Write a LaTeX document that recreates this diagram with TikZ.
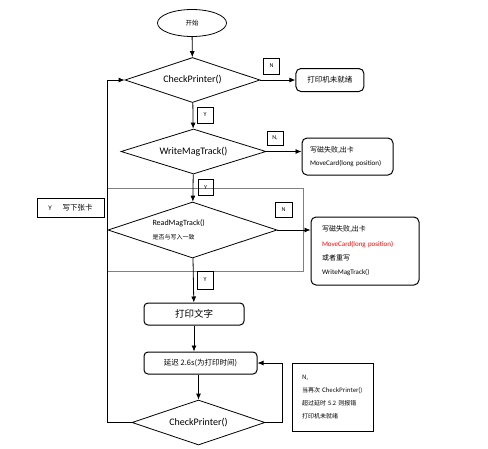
\documentclass[tikz,border=0pt]{standalone}
\usepackage{fontspec}
\setmainfont{Carlito}
\newfontfamily\cjk{Noto Sans CJK SC}
\usetikzlibrary{positioning, arrows.meta, shapes.geometric}
\tikzset{linea/.style={line width=0.8pt, -{Latex[length=6pt,width=5pt]}}}
\newcommand{\tam}[2]{\fontsize{#1}{#2}\selectfont}

\begin{document}
\begin{tikzpicture}[
            x = 1pt, y = -1pt,
            rombo/.style={draw, diamond, aspect=3, inner sep=0pt, line width=0.8pt},
            caja/.style={draw, rounded corners=5pt, line width=1pt},
            marca/.style={draw, line width=0.8pt, minimum width=16pt, minimum height=16pt, inner sep=0pt, font=\tam{6}{7}}
        ]
            \useasboundingbox (0,0) rectangle (488,448);
            \draw[gray, line width=0.6pt] (107,188) rectangle (303,271);

            \node[draw, ellipse, minimum width=69pt, minimum height=27pt, inner sep=0pt, line width=0.8pt, font=\cjk\tam{6.5}{8}] (1) at (192,23) {开始};
            \node[rombo, minimum width=135pt, minimum height=45pt, font=\tam{10}{12}] (2) at (192.5,80) {CheckPrinter()};
            \node[caja, right=35pt of 2, minimum width=68pt, minimum height=23pt, font=\cjk\tam{7.5}{9}] (3) {打印机未就绪};
            \node[rombo, minimum width=145pt, minimum height=45pt, font=\tam{10}{12}] (4) at (193.5,151.5) {WriteMagTrack()};
            \node[caja, minimum width=91pt, minimum height=37pt, text width=75pt, align=left, font=\tam{7}{13}] (5) at (347.5,156.5) {{\cjk 写磁失败,出卡}\\MoveCard(long position)};
            \node[rombo, minimum width=169pt, minimum height=56pt, text width=80pt, align=left, font=\tam{8}{14}] (7) at (192.5,230) {ReadMagTrack()\\{\cjk\tam{6}{14}是否与写入一致}};
            \node[draw, line width=0.8pt, minimum width=67pt, minimum height=19pt, inner sep=0pt, font=\tam{7}{9}] (8) at (70.5,207.5) {Y\hspace{11pt}{\cjk\tam{7.5}{9}写下张卡}};
            \node[caja, minimum width=108pt, minimum height=68pt, text width=86pt, align=left, font=\tam{7}{14.3}] (9) at (365,251) {{\cjk 写磁失败,出卡}\\{\color{red}MoveCard(long position)}\\{\cjk 或者重写}\\WriteMagTrack()};
            \node[caja, rounded corners=4pt, minimum width=100pt, minimum height=22pt, font=\cjk\tam{9.5}{11}] (10) at (194,314) {打印文字};
            \node[caja, rounded corners=4pt, minimum width=113pt, minimum height=22pt, font=\cjk\tam{7.5}{9}] (11) at (200.5,363) {延迟 2.6s(为打印时间)};
            \node[rombo, minimum width=133pt, minimum height=45pt, font=\tam{10}{12}] (12) at (198.5,422.5) {CheckPrinter()};
            \node[draw, line width=1pt, minimum width=81pt, minimum height=68pt, text width=61pt, align=left, font=\cjk\tam{6}{13.3}] (13) at (332.5,397) {N,\\当再次 CheckPrinter()\\超过延时 5.2 则报错\\打印机未就绪};

            % marcas Y / N
            \node[marca] (n1) at (271.5,66) {N};
            \node[marca] (y1) at (205,115) {Y};
            \node[marca, minimum height=14pt] (n2) at (275,138) {N,};
            \node[marca, minimum width=15pt] (y2) at (205.5,187.5) {Y};
            \node[marca, minimum width=17pt, minimum height=15pt] (n3) at (283.5,209.5) {N};
            \node[marca, minimum height=18pt] (y3) at (205,280) {Y};

            \draw[linea] (1) to (2);
            \draw[linea] (2) to (3);
            \draw[linea] (2) to (4);
            \draw[linea] (4.east) to (4.east -| 5.west);
            \draw[linea] (4) to (7);
            \draw[linea] (7.east) to (7.east -| 9.west);
            \draw[linea] (7) to (10);
            \draw[linea] (10) to (10 |- 11.north);
            \draw[linea] (12 |- 11.south) to (12);
            \draw[linea] (12.east) -- ++(17,0) |- (11.east);
            \draw[linea] (12.west) -- ++(-24,0) |- (2.west);
        \end{tikzpicture}
\end{document}
